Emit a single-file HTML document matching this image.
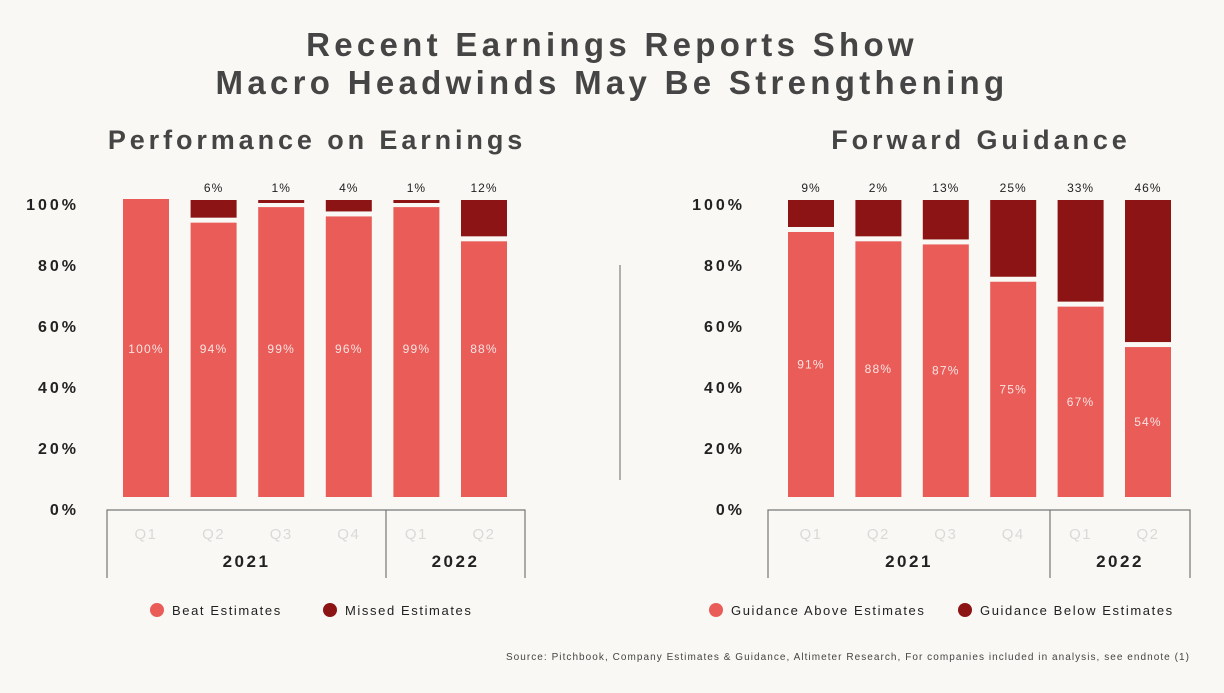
<!DOCTYPE html>
<html><head><meta charset="utf-8"><style>
body{margin:0;background:#f9f8f4;font-family:"Liberation Sans",sans-serif;}
#root{position:relative;width:1224px;height:693px;overflow:hidden;background:#f9f8f4;}
.t{position:absolute;white-space:nowrap;}
</style></head><body>
<div id="root">
<div class="t" style="left:0;width:1224px;top:26px;text-align:center;font-size:33px;font-weight:bold;color:#454545;line-height:38px;letter-spacing:4.3px">Recent Earnings Reports Show<br>Macro Headwinds May Be Strengthening</div>
<div class="t" style="left:87px;width:460px;top:125px;text-align:center;font-size:27px;font-weight:bold;color:#454545;letter-spacing:3.9px">Performance on Earnings</div>
<div class="t" style="left:750px;width:462px;top:125px;text-align:center;font-size:27px;font-weight:bold;color:#454545;letter-spacing:3.9px">Forward Guidance</div>
<div class="t" style="right:34px;top:652px;font-size:10px;color:#444;letter-spacing:1.05px">Source: Pitchbook, Company Estimates &amp; Guidance, Altimeter Research, For companies included in analysis, see endnote (1)</div>
<svg id="svg" width="1224" height="693" style="position:absolute;left:0;top:0">
<line x1="620" y1="265" x2="620" y2="480" stroke="#666" stroke-width="1"/>
</svg>
</div>
<script>
const quarters=["Q1","Q2","Q3","Q4","Q1","Q2"];
const years=["2021","2022"];
const yTicks=["0%","20%","40%","60%","80%","100%"];
const beatValues=[100,94,99,96,99,88];
const missedValues=[0,6,1,4,1,12];
const aboveValues=[91,88,87,75,67,54];
const belowValues=[9,2,13,25,33,46];

const NS="http://www.w3.org/2000/svg";
const svg=document.getElementById('svg');
const LIGHT="#e95c58",DARK="#8c1414";
function mk(tag,attrs,text){const e=document.createElementNS(NS,tag);for(const k in attrs)e.setAttribute(k,attrs[k]);if(text!==undefined)e.textContent=text;svg.appendChild(e);return e;}
function yScale(v){return v>=100?199:Math.max(199,515-v*3.11);}

function drawChart(cfg){
  const {x0,step,labelX,boxL,boxR,boxDiv,lower,upper,fixedMid,leg1,leg2,legX1,legX2}=cfg;
  yTicks.forEach((t,i)=>{
    const e=mk('text',{x:labelX,y:515-i*61,'text-anchor':'end','font-size':16,'font-weight':'bold',fill:'#222','font-family':'Liberation Sans','letter-spacing':3},t);
    
    
  });
  lower.forEach((v,i)=>{
    const cx=x0+i*step;
    const top=yScale(v);
    const b=mk('rect',{x:cx-23,y:top,width:46,height:497-top,fill:LIGHT});
    
    
    if(upper[i]>0){
      const h=Math.max(3,top-5-200);
      const d=mk('rect',{x:cx-23,y:200,width:46,height:h,fill:DARK});
      
      
      const ul=mk('text',{x:cx,y:192,'text-anchor':'middle','font-size':12,fill:'#222','font-family':'Liberation Sans','letter-spacing':1},upper[i]+'%');
      
      
    }
    const my=fixedMid?353:(top+497)/2+4;
    const ll=mk('text',{x:cx,y:my,'text-anchor':'middle','font-size':12,fill:'#fbe3e2','font-family':'Liberation Sans','letter-spacing':1.2},v+'%');
    
    
    const q=mk('text',{x:cx,y:539,'text-anchor':'middle','font-size':15,fill:'#d9d9d9','font-family':'Liberation Sans','letter-spacing':1.5},quarters[i]);
    
    
  });
  const box=mk('path',{d:`M${boxL},578V510H${boxR}V578M${boxDiv},510V578`,fill:'none',stroke:'#777','stroke-width':1.2});
  
  
  [[(boxL+boxDiv)/2,years[0]],[(boxDiv+boxR)/2,years[1]]].forEach(([x,t])=>{
    const y=mk('text',{x:x,y:567,'text-anchor':'middle','font-size':17,'font-weight':'bold',fill:'#222','font-family':'Liberation Sans','letter-spacing':2.5},t);
    
    
  });
  [[legX1,LIGHT,leg1],[legX2,DARK,leg2]].forEach(([x,c,t])=>{
    const ci=mk('circle',{cx:x,cy:610,r:7,fill:c});
    
    
    const tx=mk('text',{x:x+15,y:615,'font-size':13,fill:'#222','font-family':'Liberation Sans','letter-spacing':1.6},t);
    
    
  });
}
drawChart({x0:146,step:67.6,labelX:79,boxL:107,boxR:525,boxDiv:386,lower:beatValues,upper:missedValues,fixedMid:true,leg1:'Beat Estimates',leg2:'Missed Estimates',legX1:157,legX2:330});
drawChart({x0:811,step:67.4,labelX:745,boxL:768,boxR:1190,boxDiv:1050,lower:aboveValues,upper:belowValues,fixedMid:false,leg1:'Guidance Above Estimates',leg2:'Guidance Below Estimates',legX1:716,legX2:965});
</script>
</body></html>
